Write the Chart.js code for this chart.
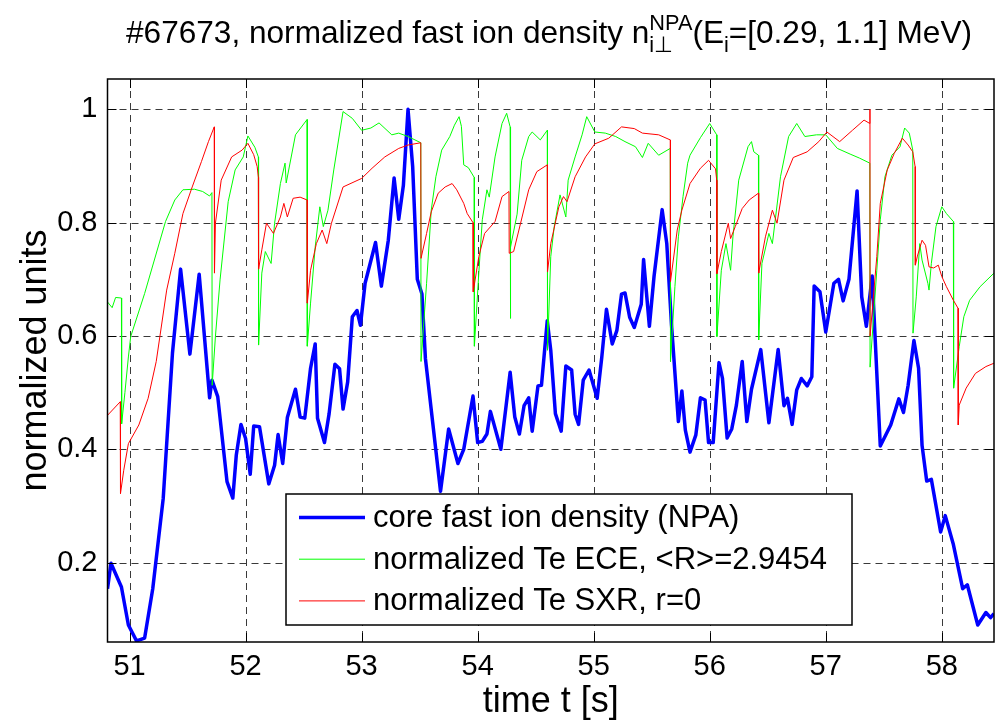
<!DOCTYPE html>
<html>
<head>
<meta charset="utf-8">
<script src="https://cdn.jsdelivr.net/npm/chart.js@4.4.0/dist/chart.umd.min.js"></script>
<style>
  html, body { margin: 0; padding: 0; background: #fff; }
  canvas { display: block; }
</style>
</head>
<body>
<canvas id="fastIonChart" width="995" height="725"></canvas>
<script>
/* --------------- Data ----------------------------------------- */
const npaTime = [50.81, 50.84, 50.93, 50.99, 51.06, 51.13, 51.20, 51.29, 51.37, 51.44, 51.52, 51.60, 51.69, 51.71, 51.76, 51.84, 51.89, 51.92, 51.96, 52.00,
  52.04, 52.07, 52.12, 52.20, 52.25, 52.28, 52.32, 52.36, 52.43, 52.47, 52.51, 52.56, 52.60, 52.62, 52.68, 52.72, 52.77, 52.81, 52.84, 52.88,
  52.92, 52.96, 52.99, 53.03, 53.12, 53.17, 53.23, 53.28, 53.32, 53.36, 53.40, 53.44, 53.48, 53.52, 53.55, 53.68, 53.75, 53.83, 53.88, 53.96,
  54.00, 54.04, 54.08, 54.11, 54.20, 54.28, 54.32, 54.36, 54.40, 54.44, 54.47, 54.52, 54.55, 54.60, 54.63, 54.67, 54.72, 54.76, 54.81, 54.84,
  54.87, 54.91, 54.96, 55.03, 55.07, 55.11, 55.16, 55.20, 55.24, 55.27, 55.31, 55.35, 55.41, 55.43, 55.48, 55.52, 55.59, 55.63, 55.67, 55.73,
  55.76, 55.79, 55.83, 55.88, 55.92, 55.96, 55.99, 56.03, 56.08, 56.11, 56.15, 56.19, 56.23, 56.28, 56.32, 56.36, 56.44, 56.51, 56.59, 56.64,
  56.67, 56.71, 56.75, 56.79, 56.84, 56.88, 56.90, 56.95, 57.00, 57.07, 57.11, 57.15, 57.20, 57.27, 57.31, 57.35, 57.40, 57.47, 57.56, 57.63,
  57.67, 57.71, 57.76, 57.80, 57.83, 57.87, 57.91, 57.99, 58.03, 58.10, 58.18, 58.22, 58.31, 58.38, 58.42, 58.45];
const npaValue = [0.154, 0.199, 0.157, 0.090, 0.062, 0.067, 0.154, 0.313, 0.570, 0.718, 0.568, 0.709, 0.491, 0.522, 0.493, 0.343, 0.314, 0.390, 0.444, 0.419,
  0.356, 0.441, 0.440, 0.339, 0.372, 0.426, 0.375, 0.456, 0.506, 0.457, 0.455, 0.543, 0.586, 0.455, 0.412, 0.463, 0.550, 0.542, 0.471, 0.519,
  0.634, 0.645, 0.619, 0.693, 0.765, 0.688, 0.769, 0.879, 0.806, 0.866, 1.000, 0.899, 0.700, 0.674, 0.560, 0.326, 0.436, 0.375, 0.400, 0.494,
  0.412, 0.414, 0.427, 0.467, 0.400, 0.536, 0.457, 0.427, 0.477, 0.491, 0.432, 0.512, 0.513, 0.627, 0.575, 0.463, 0.432, 0.547, 0.540, 0.462,
  0.444, 0.522, 0.540, 0.490, 0.563, 0.647, 0.586, 0.610, 0.674, 0.676, 0.633, 0.615, 0.656, 0.735, 0.617, 0.705, 0.823, 0.763, 0.622, 0.449,
  0.503, 0.434, 0.395, 0.425, 0.491, 0.487, 0.412, 0.412, 0.553, 0.525, 0.420, 0.436, 0.478, 0.555, 0.449, 0.506, 0.576, 0.447, 0.576, 0.477,
  0.490, 0.444, 0.505, 0.525, 0.512, 0.528, 0.688, 0.678, 0.607, 0.693, 0.700, 0.662, 0.700, 0.856, 0.669, 0.617, 0.706, 0.406, 0.443, 0.489,
  0.465, 0.513, 0.592, 0.543, 0.407, 0.344, 0.347, 0.254, 0.283, 0.232, 0.154, 0.161, 0.090, 0.112, 0.103, 0.110];

const eceTime = [50.81, 50.85, 50.88, 50.93, 50.932, 50.96, 50.99, 51.01, 51.13, 51.31, 51.39, 51.46, 51.56, 51.63, 51.69, 51.71, 51.712, 51.74, 51.78, 51.85,
  51.91, 51.98, 52.02, 52.08, 52.11, 52.112, 52.14, 52.17, 52.22, 52.25, 52.30, 52.34, 52.35, 52.43, 52.53, 52.532, 52.56, 52.60, 52.64, 52.67,
  52.71, 52.76, 52.84, 52.92, 53.00, 53.08, 53.15, 53.26, 53.32, 53.40, 53.51, 53.512, 53.56, 53.60, 53.64, 53.69, 53.76, 53.80, 53.84, 53.86,
  53.88, 53.92, 53.97, 53.972, 54.01, 54.04, 54.08, 54.10, 54.15, 54.21, 54.25, 54.28, 54.282, 54.285, 54.34, 54.38, 54.44, 54.47, 54.54, 54.60,
  54.602, 54.63, 54.66, 54.71, 54.76, 54.78, 54.84, 54.90, 54.94, 55.01, 55.10, 55.19, 55.27, 55.36, 55.42, 55.47, 55.56, 55.66, 55.662, 55.70,
  55.73, 55.77, 55.81, 55.83, 55.92, 56.00, 56.06, 56.062, 56.10, 56.14, 56.18, 56.20, 56.25, 56.33, 56.36, 56.38, 56.42, 56.422, 56.45, 56.51,
  56.54, 56.61, 56.68, 56.75, 56.82, 56.92, 57.00, 57.10, 57.21, 57.29, 57.38, 57.382, 57.44, 57.47, 57.51, 57.57, 57.64, 57.68, 57.72, 57.75,
  57.752, 57.78, 57.81, 57.83, 57.88, 57.89, 57.91, 57.95, 58.00, 58.04, 58.10, 58.102, 58.15, 58.19, 58.24, 58.33, 58.45];
const eceValue = [0.660, 0.650, 0.668, 0.667, 0.445, 0.500, 0.563, 0.599, 0.675, 0.802, 0.840, 0.858, 0.859, 0.855, 0.847, 0.853, 0.513, 0.599, 0.699, 0.837,
  0.893, 0.916, 0.953, 0.933, 0.916, 0.584, 0.711, 0.749, 0.728, 0.799, 0.869, 0.905, 0.870, 0.955, 0.982, 0.582, 0.658, 0.757, 0.828, 0.793,
  0.822, 0.893, 0.996, 0.984, 0.963, 0.967, 0.976, 0.955, 0.958, 0.952, 0.941, 0.555, 0.693, 0.822, 0.881, 0.928, 0.952, 0.972, 0.987, 0.970,
  0.902, 0.897, 0.880, 0.582, 0.711, 0.805, 0.858, 0.845, 0.916, 0.975, 0.993, 0.969, 0.631, 0.757, 0.815, 0.910, 0.952, 0.960, 0.946, 0.963,
  0.575, 0.740, 0.793, 0.849, 0.810, 0.875, 0.916, 0.955, 0.987, 0.960, 0.958, 0.952, 0.943, 0.934, 0.915, 0.940, 0.919, 0.931, 0.555, 0.687,
  0.775, 0.846, 0.905, 0.919, 0.950, 0.975, 0.955, 0.599, 0.716, 0.763, 0.716, 0.775, 0.875, 0.934, 0.943, 0.925, 0.919, 0.593, 0.728, 0.781,
  0.763, 0.881, 0.952, 0.975, 0.952, 0.955, 0.955, 0.931, 0.921, 0.914, 0.905, 0.545, 0.716, 0.805, 0.881, 0.919, 0.934, 0.967, 0.958, 0.928,
  0.605, 0.669, 0.763, 0.734, 0.693, 0.681, 0.728, 0.793, 0.828, 0.816, 0.802, 0.508, 0.581, 0.634, 0.663, 0.687, 0.711];

const sxrTime = [50.81, 50.92, 50.922, 50.95, 50.99, 51.08, 51.16, 51.23, 51.32, 51.39, 51.46, 51.54, 51.62, 51.68, 51.73, 51.732, 51.74, 51.79, 51.88, 51.97,
  52.02, 52.07, 52.10, 52.11, 52.112, 52.14, 52.18, 52.24, 52.30, 52.33, 52.36, 52.41, 52.47, 52.53, 52.532, 52.56, 52.61, 52.66, 52.70, 52.74,
  52.84, 53.00, 53.09, 53.20, 53.32, 53.40, 53.51, 53.512, 53.56, 53.60, 53.66, 53.72, 53.78, 53.82, 53.88, 53.91, 53.96, 53.962, 54.01, 54.06,
  54.15, 54.21, 54.27, 54.272, 54.31, 54.37, 54.44, 54.51, 54.60, 54.602, 54.63, 54.70, 54.74, 54.77, 54.84, 54.93, 55.01, 55.13, 55.24, 55.35,
  55.42, 55.56, 55.66, 55.662, 55.72, 55.76, 55.83, 55.92, 55.99, 56.05, 56.06, 56.062, 56.10, 56.16, 56.18, 56.22, 56.28, 56.34, 56.42, 56.422,
  56.48, 56.54, 56.58, 56.64, 56.72, 56.84, 56.94, 57.01, 57.12, 57.23, 57.33, 57.38, 57.381, 57.382, 57.44, 57.47, 57.53, 57.59, 57.66, 57.71,
  57.75, 57.77, 57.772, 57.79, 57.83, 57.86, 57.89, 57.93, 57.97, 58.00, 58.04, 58.10, 58.14, 58.142, 58.15, 58.21, 58.29, 58.38, 58.45];
const sxrValue = [0.460, 0.484, 0.322, 0.363, 0.410, 0.443, 0.490, 0.555, 0.681, 0.746, 0.816, 0.863, 0.908, 0.943, 0.969, 0.711, 0.799, 0.875, 0.916, 0.928,
  0.940, 0.920, 0.899, 0.880, 0.718, 0.752, 0.799, 0.781, 0.810, 0.834, 0.810, 0.843, 0.845, 0.840, 0.658, 0.716, 0.763, 0.787, 0.763, 0.799,
  0.863, 0.878, 0.896, 0.916, 0.931, 0.937, 0.941, 0.737, 0.781, 0.819, 0.852, 0.863, 0.869, 0.858, 0.834, 0.816, 0.800, 0.678, 0.740, 0.781,
  0.802, 0.846, 0.855, 0.746, 0.749, 0.799, 0.858, 0.890, 0.902, 0.713, 0.763, 0.828, 0.846, 0.837, 0.881, 0.916, 0.939, 0.949, 0.969, 0.966,
  0.958, 0.955, 0.946, 0.696, 0.787, 0.822, 0.869, 0.896, 0.910, 0.895, 0.875, 0.710, 0.749, 0.799, 0.772, 0.793, 0.825, 0.840, 0.852, 0.711,
  0.775, 0.822, 0.799, 0.875, 0.915, 0.925, 0.943, 0.960, 0.943, 0.963, 0.981, 0.975, 1.000, 0.600, 0.740, 0.834, 0.893, 0.922, 0.949, 0.937,
  0.925, 0.899, 0.725, 0.741, 0.769, 0.760, 0.722, 0.720, 0.725, 0.705, 0.687, 0.663, 0.649, 0.443, 0.478, 0.508, 0.534, 0.546, 0.552];

const seriesLabels = ["core fast ion density (NPA)", "normalized Te ECE, <R>=2.9454", "normalized Te SXR, r=0"];
const xTickValues = [51, 52, 53, 54, 55, 56, 57, 58];
const yTickValues = [0.2, 0.4, 0.6, 0.8, 1];
const yTickLabels = ["0.2", "0.4", "0.6", "0.8", "1"];

const FONT = '"Liberation Sans", Arial, Helvetica, sans-serif';

/* --------------- Title with sub/superscripts --------------------- */
const titlePlugin = {
  id: "matlabTitle",
  afterDraw(chart) {
    const ctx = chart.ctx;
    const big = "32px " + FONT, small = "22px " + FONT;
    const parts = [
      { t: "#67673, normalized fast ion density n", f: big, dy: 0 },
      { t: "NPA", f: small, dy: -13, under: "i\u22a5", udy: 9 },
      { t: "(E", f: big, dy: 0 },
      { t: "i", f: small, dy: 9 },
      { t: "=[0.29, 1.1] MeV)", f: big, dy: 0 },
    ];
    ctx.save();
    let total = 0;
    parts.forEach(p => {
      ctx.font = p.f;
      let w = ctx.measureText(p.t).width;
      if (p.under) w = Math.max(w, ctx.measureText(p.under).width);
      p.w = w; total += w;
    });
    const left = 126, right = 972;
    ctx.translate(left, 43);
    ctx.scale((right - left) / total, 1);
    ctx.fillStyle = "#000";
    ctx.textBaseline = "alphabetic";
    let x = 0;
    parts.forEach(p => {
      ctx.font = p.f;
      ctx.fillText(p.t, x, p.dy);
      if (p.under) ctx.fillText(p.under, x, p.udy);
      x += p.w;
    });
    ctx.restore();
  }
};

/* --------------- Dashed grid, box and inward ticks --------------------- */
const framePlugin = {
  id: "matlabFrame",
  beforeDatasetsDraw(chart) {
    const { ctx, chartArea: a, scales: { x, y } } = chart;
    ctx.save();
    ctx.strokeStyle = "#3a3a3a";
    ctx.lineWidth = 1;
    ctx.setLineDash([7, 5]);
    ctx.beginPath();
    xTickValues.forEach(v => {
      const px = Math.round(x.getPixelForValue(v)) + 0.5;
      ctx.moveTo(px, a.top); ctx.lineTo(px, a.bottom);
    });
    yTickValues.forEach(v => {
      const py = Math.round(y.getPixelForValue(v)) + 0.5;
      ctx.moveTo(a.left, py); ctx.lineTo(a.right, py);
    });
    ctx.stroke();
    ctx.restore();
  },
  afterDatasetsDraw(chart) {
    const { ctx, chartArea: a, scales: { x, y } } = chart;
    const len = 9;
    ctx.save();
    ctx.strokeStyle = "#000";
    ctx.lineWidth = 1;
    ctx.beginPath();
    xTickValues.forEach(v => {
      const px = Math.round(x.getPixelForValue(v)) + 0.5;
      ctx.moveTo(px, a.bottom); ctx.lineTo(px, a.bottom - len);
      ctx.moveTo(px, a.top); ctx.lineTo(px, a.top + len);
    });
    yTickValues.forEach(v => {
      const py = Math.round(y.getPixelForValue(v)) + 0.5;
      ctx.moveTo(a.left, py); ctx.lineTo(a.left + len, py);
      ctx.moveTo(a.right, py); ctx.lineTo(a.right - len, py);
    });
    ctx.stroke();
    ctx.lineWidth = 1.5;
    ctx.strokeRect(a.left, a.top, a.right - a.left, a.bottom - a.top);
    ctx.restore();
  }
};

/* --------------- Legend box inside the axes --------------------- */
const legendPlugin = {
  id: "matlabLegend",
  afterDraw(chart) {
    const ctx = chart.ctx;
    const box = { x: 286, y: 494, w: 566, h: 131 };
    ctx.save();
    ctx.fillStyle = "#fff";
    ctx.fillRect(box.x, box.y, box.w, box.h);
    ctx.strokeStyle = "#000";
    ctx.lineWidth = 1.5;
    ctx.strokeRect(box.x, box.y, box.w, box.h);
    chart.data.datasets.forEach((ds, i) => {
      const yy = 517.5 + i * 41.7;
      ctx.strokeStyle = ds.borderColor;
      ctx.lineWidth = ds.borderWidth;
      ctx.beginPath();
      ctx.moveTo(299, yy); ctx.lineTo(365, yy);
      ctx.stroke();
      ctx.fillStyle = "#000";
      ctx.font = "31px " + FONT;
      ctx.textBaseline = "middle";
      ctx.fillText(ds.label, 373, yy + 1);
    });
    ctx.restore();
  }
};

const toPoints = (ts, vs) => ts.map((t, i) => ({ x: t, y: vs[i] }));

new Chart(document.getElementById("fastIonChart"), {
  type: "line",
  plugins: [framePlugin, legendPlugin, titlePlugin],
  data: {
    datasets: [
      { label: seriesLabels[0], data: toPoints(npaTime, npaValue), borderColor: "#0000ff", borderWidth: 3.5, order: 3 },
      { label: seriesLabels[1], data: toPoints(eceTime, eceValue), borderColor: "#00ff00", borderWidth: 1, order: 2 },
      { label: seriesLabels[2], data: toPoints(sxrTime, sxrValue), borderColor: "#ff0000", borderWidth: 1, order: 1 },
    ],
  },
  options: {
    responsive: false,
    animation: false,
    devicePixelRatio: 1,
    elements: { point: { radius: 0 }, line: { tension: 0, borderJoinStyle: "round", fill: false } },
    layout: { padding: { top: 79, right: 1, left: 0, bottom: 0 } },
    plugins: { legend: { display: false }, tooltip: { enabled: false }, title: { display: false } },
    scales: {
      x: {
        type: "linear",
        min: 50.81,
        max: 58.45,
        grid: { display: false, drawTicks: false },
        border: { display: false },
        afterBuildTicks: s => { s.ticks = xTickValues.map(v => ({ value: v })); },
        afterFit: s => { s.height = 83; },
        ticks: { color: "#000", autoSkip: false, maxRotation: 0, padding: 8, font: { family: FONT, size: 29 }, callback: v => String(v) },
        title: { display: true, text: "time t [s]", color: "#000", font: { family: FONT, size: 36 }, padding: { top: 0, bottom: 1 } },
      },
      y: {
        type: "linear",
        min: 0.06,
        max: 1.0535,
        grid: { display: false, drawTicks: false },
        border: { display: false },
        afterBuildTicks: s => { s.ticks = yTickValues.map(v => ({ value: v })); },
        afterFit: s => { s.width = 107.5; },
        ticks: {
          color: "#000", padding: 10, font: { family: FONT, size: 29 },
          callback: v => yTickLabels[yTickValues.findIndex(t => Math.abs(t - v) < 1e-6)],
        },
        title: { display: true, text: "normalized units", color: "#000", font: { family: FONT, size: 36 }, padding: { top: 14, bottom: 0 } },
      },
    },
  },
});
</script>
</body>
</html>
